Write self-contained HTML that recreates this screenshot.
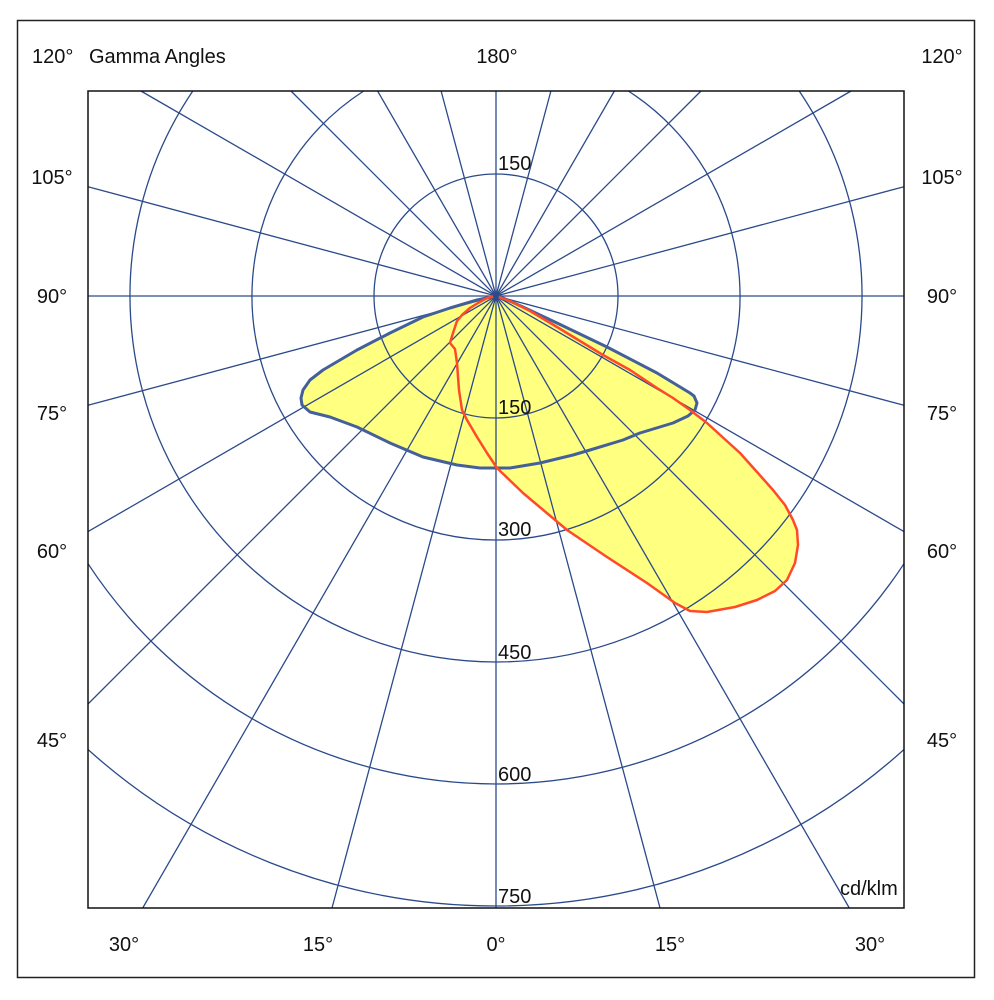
<!DOCTYPE html>
<html>
<head>
<meta charset="utf-8">
<style>
html,body{margin:0;padding:0;background:#fff;width:994px;height:1000px;overflow:hidden;position:relative;}
svg{display:block;position:absolute;left:0;top:0;}
text{font-family:"Liberation Sans",Arial,sans-serif;font-size:20px;fill:#111;}
</style>
</head>
<body>
<svg width="994" height="1000" viewBox="0 0 994 1000" xmlns="http://www.w3.org/2000/svg">
<rect x="0" y="0" width="994" height="1000" fill="#fff"/>
<rect x="17.5" y="20.5" width="957" height="957" fill="none" stroke="#222" stroke-width="1.5"/>

<path d="M496,296 L477,300 L450,308 L423,317 L390,333 L357,350 L323,370 L310,380 L303,390 L301,398 L302,405 L310,412 L330,417 L357,427 L390,443 L423,457 L457,465 L480,468 L496,468 L510,468 L540,463 L573,455 L590,450 L623,440 L640,433 L673,423 L688,416 L695,410 L697,403 L694,396 L690,393 L657,373 L607,347 L557,323 L523,307 L503,298 Z" fill="#ffff80"/>
<path d="M496,296 L487,298 L478,303 L470,308 L462,315 L457,321 L453,333 L450,343 L455,349 L457,363 L459,390 L462,410 L467,420 L477,437 L487,453 L497,468 L523,493 L567,530 L607,557 L647,583 L675,603 L690,611 L707,612 L735,607 L757,600 L775,591 L787,580 L795,563 L798,545 L797,530 L793,520 L785,505 L773,490 L757,472 L740,453 L707,423 L690,410 L673,398 L657,388 L630,370 L603,355 L580,341 L557,327 L530,311 L510,301 Z" fill="#ffff80"/>

<g fill="none" stroke="#2b4a8b" stroke-width="1.3">
  <circle cx="496" cy="296" r="122"/>
  <path d="M628.3,91 A244 244 0 1 1 363.7,91"/>
  <path d="M799.2,91 A366 366 0 1 1 192.8,91"/>
  <path d="M904,563.7 A488 488 0 0 1 88,563.7"/>
  <path d="M904,749.5 A610 610 0 0 1 88,749.5"/>
</g>
<g stroke="#2b4a8b" stroke-width="1.3">
  <line x1="88" y1="296" x2="904" y2="296"/>
  <line x1="496" y1="91" x2="496" y2="908"/>
  <line x1="88" y1="186.7" x2="904" y2="405.3"/>
  <line x1="88" y1="405.3" x2="904" y2="186.7"/>
  <line x1="140.9" y1="91" x2="904" y2="531.6"/>
  <line x1="851.1" y1="91" x2="88" y2="531.6"/>
  <line x1="291" y1="91" x2="904" y2="704"/>
  <line x1="701" y1="91" x2="88" y2="704"/>
  <line x1="377.6" y1="91" x2="849.3" y2="908"/>
  <line x1="614.4" y1="91" x2="142.7" y2="908"/>
  <line x1="441.1" y1="91" x2="660" y2="908"/>
  <line x1="550.9" y1="91" x2="332" y2="908"/>
</g>

<path d="M496,296 L477,300 L450,308 L423,317 L390,333 L357,350 L323,370 L310,380 L303,390 L301,398 L302,405 L310,412 L330,417 L357,427 L390,443 L423,457 L457,465 L480,468 L496,468 L510,468 L540,463 L573,455 L590,450 L623,440 L640,433 L673,423 L688,416 L695,410 L697,403 L694,396 L690,393 L657,373 L607,347 L557,323 L523,307 L503,298 Z" fill="none" stroke="#44609a" stroke-width="3" stroke-linejoin="round"/>
<path d="M496,296 L487,298 L478,303 L470,308 L462,315 L457,321 L453,333 L450,343 L455,349 L457,363 L459,390 L462,410 L467,420 L477,437 L487,453 L497,468 L523,493 L567,530 L607,557 L647,583 L675,603 L690,611 L707,612 L735,607 L757,600 L775,591 L787,580 L795,563 L798,545 L797,530 L793,520 L785,505 L773,490 L757,472 L740,453 L707,423 L690,410 L673,398 L657,388 L630,370 L603,355 L580,341 L557,327 L530,311 L510,301 Z" fill="none" stroke="#ff4a2a" stroke-width="2.5" stroke-linejoin="round"/>
<circle cx="496" cy="296" r="3" fill="#2b4a8b"/>

<rect x="88" y="91" width="816" height="817" fill="none" stroke="#111" stroke-width="1.5"/>

<text x="498" y="170">150</text>
<text x="498" y="414">150</text>
<text x="498" y="536">300</text>
<text x="498" y="659">450</text>
<text x="498" y="781">600</text>
<text x="498" y="903">750</text>
<text x="840" y="895">cd/klm</text>

<text x="32" y="63">120°</text>
<text x="89" y="63">Gamma Angles</text>
<text x="497" y="63" text-anchor="middle">180°</text>
<text x="942" y="63" text-anchor="middle">120°</text>

<g text-anchor="middle">
<text x="52" y="184">105°</text>
<text x="52" y="303">90°</text>
<text x="52" y="420">75°</text>
<text x="52" y="558">60°</text>
<text x="52" y="747">45°</text>
<text x="942" y="184">105°</text>
<text x="942" y="303">90°</text>
<text x="942" y="420">75°</text>
<text x="942" y="558">60°</text>
<text x="942" y="747">45°</text>

<text x="124" y="951">30°</text>
<text x="318" y="951">15°</text>
<text x="496" y="951">0°</text>
<text x="670" y="951">15°</text>
<text x="870" y="951">30°</text>
</g>
</svg>
</body>
</html>
